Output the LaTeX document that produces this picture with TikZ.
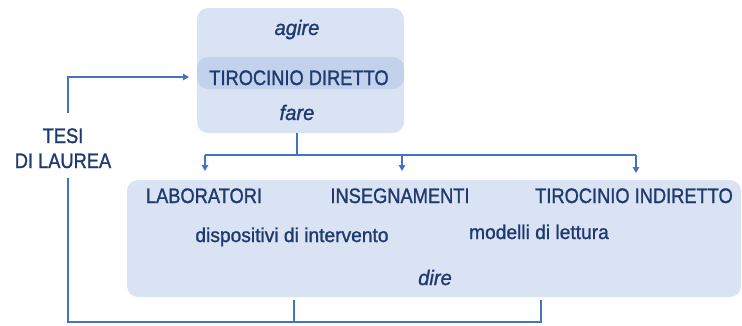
\documentclass[tikz,border=0pt]{standalone}
\usepackage{fontspec}
\setmainfont{Liberation Sans}
\newfontfamily\capsfont[FakeStretch=0.87,FakeBold=1.2]{Liberation Sans}
\newfontfamily\lowfont[FakeStretch=0.96,FakeBold=1.2]{Liberation Sans}
\usetikzlibrary{arrows.meta}
\definecolor{boxfill}{HTML}{DAE3F3}
\definecolor{bandfill}{HTML}{C3D2EC}
\definecolor{txt}{HTML}{1E3A6E}
\definecolor{ln}{HTML}{4472C4}
\tikzset{
  panel/.style={fill=boxfill, draw=none, rounded corners=11pt, inner sep=0pt},
  band/.style={fill=bandfill, draw=none, rounded corners=11pt, inner sep=0pt},
  lbl/.style={text=txt, font=\capsfont\fontsize{21}{24}\selectfont, inner sep=0pt, anchor=base},
  llbl/.style={text=txt, font=\lowfont\fontsize{20}{24}\selectfont, inner sep=0pt, anchor=base},
  ilbl/.style={text=txt, font=\lowfont\fontsize{21}{24}\selectfont\itshape, inner sep=0pt, anchor=base},
  conn/.style={draw=ln, line width=1.3pt},
  arr/.style={conn, -{Triangle[width=6.5pt,length=6pt]}}
}
\begin{document}
\begin{tikzpicture}[x=1pt,y=-1pt]
\useasboundingbox (0,0) rectangle (742,325);
% top panel
\node[panel, minimum width=207pt, minimum height=125pt] (top) at (300.5,70.5) {};
\node[band, minimum width=207pt, minimum height=32pt] (band) at (300.5,73) {};
\node[ilbl] (agire) at (297,35) {agire};
\node[lbl] (td) at (299,85) {TIROCINIO DIRETTO};
\node[ilbl] (fare) at (297,120) {fare};
% bottom panel
\node[panel, minimum width=614pt, minimum height=117pt] (bot) at (434,238.5) {};
\node[lbl] (lab) at (204,203) {LABORATORI};
\node[lbl] (ins) at (400,203) {INSEGNAMENTI};
\node[lbl] (ti) at (634,203) {TIROCINIO INDIRETTO};
\node[llbl] (disp) at (292,242) {dispositivi di intervento};
\node[llbl] (mod) at (539,239) {modelli di lettura};
\node[ilbl] (dire) at (435,285) {dire};
% tesi
\node[lbl] (tesi1) at (63,143) {TESI};
\node[lbl] (tesi2) at (63,168) {DI LAUREA};
% coordinates
\coordinate (s) at (297,133);
\coordinate (j) at (297,155);
\coordinate (a1) at (205,155);
\coordinate (a2) at (402,155);
\coordinate (a3) at (636,155);
\coordinate (t1) at (205,171);
\coordinate (t2) at (402,171);
\coordinate (t3) at (636,173);
\coordinate (b1) at (294,300);
\coordinate (b2) at (541,300);
\coordinate (c1) at (294,322);
\coordinate (c2) at (541,322);
\coordinate (cl) at (68,322);
\coordinate (up) at (68,178);
\coordinate (lo) at (68,113);
\coordinate (tl) at (68,77);
\coordinate (ta) at (189,77);
% connectors
\draw[conn] (s) -- (j);
\draw[conn] (a1) -- (a3);
\draw[arr] (a1) -- (t1);
\draw[arr] (a2) -- (t2);
\draw[arr] (a3) -- (t3);
\draw[conn] (b1) -- (c1);
\draw[conn] (b2) -- (c2) -- (cl) -- (up);
\draw[arr] (lo) -- (tl) -- (ta);
\end{tikzpicture}
\end{document}
